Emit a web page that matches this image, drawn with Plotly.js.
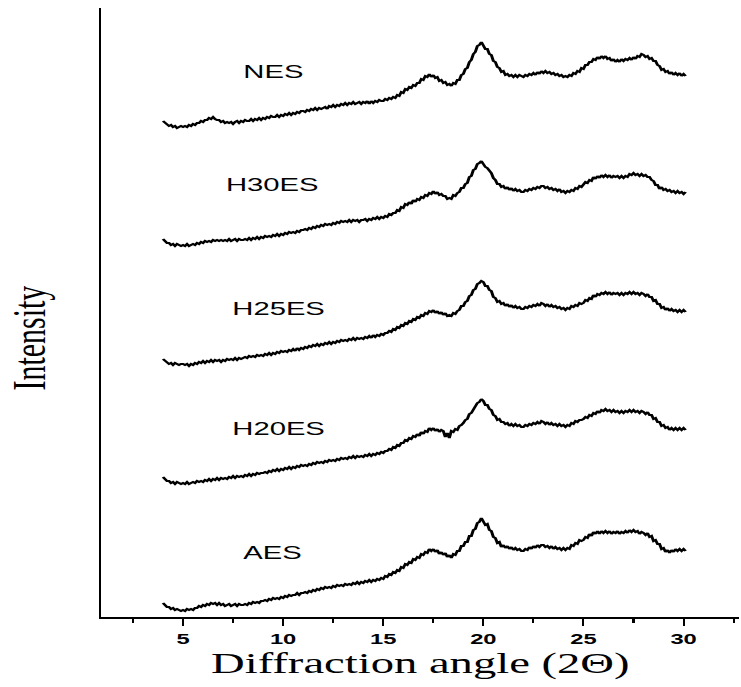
<!DOCTYPE html>
<html>
<head>
<meta charset="utf-8">
<script src="https://cdn.plot.ly/plotly-3.0.1.min.js"></script>
<style>
  html, body { margin: 0; padding: 0; background: #ffffff; overflow: hidden; }
  #chart { width: 469px; height: 687px; transform: scaleX(1.58); transform-origin: 0 0; }
</style>
</head>
<body>
<div id="chart"></div>
<script>
// 2θ scan: starts at 4.0°, step 0.1°, ends at 30.1° (262 points per pattern)
const angleStart = 4.0;
const angleStep = 0.1;

const sampleNames = ["NES", "H30ES", "H25ES", "H20ES", "AES"];

// Stacked intensities (a.u., offset for display)
const NES = [
496,494,492,491,492,490,491,489,490,491,
490,491,490,492,491,493,492,494,494,496,
495,497,497,499,498,500,498,497,497,495,
496,494,495,494,495,493,495,496,494,496,
495,497,496,496,498,496,498,497,499,497,
499,498,500,499,501,500,500,502,500,502,
501,503,502,504,502,504,503,505,504,506,
506,505,507,506,508,507,509,507,509,508,
509,510,508,511,510,512,510,512,511,513,
512,514,512,514,513,515,513,514,515,513,
515,514,516,513,516,514,516,515,517,516,
516,518,517,519,518,520,519,522,521,525,
524,528,527,530,529,532,531,534,534,538,
537,541,540,543,540,542,539,540,536,537,
534,535,532,533,531,534,533,537,537,542,
543,548,549,555,557,563,565,571,572,575,
572,568,568,563,562,556,555,550,549,545,
546,542,543,541,542,540,542,540,542,541,
540,542,541,543,542,544,542,545,543,546,
544,546,544,545,543,544,542,543,541,542,
540,541,540,542,541,544,543,546,545,549,
548,552,552,555,555,558,557,560,558,561,
559,561,558,559,556,558,555,557,555,558,
556,558,557,559,557,560,558,561,560,563,
562,560,561,558,559,556,556,552,551,547,
548,545,546,543,545,542,544,542,544,541,
543,541];

const H30ES = [
378,376,374,374,372,373,371,373,372,371,
372,371,373,371,372,373,372,374,373,375,
374,376,375,376,375,377,376,377,376,377,
376,377,376,378,376,377,378,376,378,377,
377,378,377,379,377,379,378,380,378,380,
379,381,380,381,380,382,381,383,381,383,
382,384,383,385,384,385,384,386,385,387,
387,388,387,389,388,390,389,391,390,392,
391,393,392,393,392,394,393,395,394,396,
395,396,395,397,395,397,396,397,395,397,
397,398,396,398,397,399,398,400,398,400,
399,401,400,403,402,404,404,407,406,410,
409,413,412,415,413,417,415,418,417,420,
419,422,421,424,423,426,423,425,422,423,
421,421,418,419,418,422,421,424,425,429,
429,433,434,440,441,447,448,453,454,456,
453,450,449,446,444,439,437,433,433,430,
431,428,430,427,429,426,428,426,427,425,
425,427,426,428,427,429,428,430,429,431,
431,429,430,428,429,427,428,426,428,425,
426,424,426,425,427,426,429,428,431,430,
432,435,434,437,436,440,438,441,439,442,
440,442,440,442,439,441,440,441,439,441,
439,441,440,443,442,444,442,443,441,443,
441,442,440,440,437,436,432,432,428,430,
427,428,426,427,425,426,424,426,424,425,
423,425];

const H25ES = [
258,256,255,253,254,252,254,253,252,253,
253,252,253,251,253,252,254,253,255,254,
256,254,256,255,257,255,257,256,257,255,
257,256,258,257,258,257,259,257,259,258,
259,260,259,261,260,261,260,262,261,262,
261,263,262,264,262,264,263,265,264,266,
265,266,265,267,266,268,266,269,267,269,
268,270,269,271,270,272,271,273,271,273,
272,274,273,275,273,275,274,276,275,277,
276,277,276,278,277,279,277,279,278,279,
278,280,279,281,279,282,280,282,281,283,
282,284,284,286,285,288,287,290,289,292,
291,294,293,296,295,298,297,300,299,302,
301,304,303,306,305,307,304,306,303,305,
302,304,301,302,301,304,303,306,307,311,
311,315,316,321,322,327,328,333,334,336,
335,331,331,327,326,320,319,315,316,313,
314,311,313,310,312,309,311,309,310,308,
308,310,309,311,310,312,311,313,311,314,
313,311,313,310,312,310,311,309,310,308,
309,307,309,308,311,310,312,311,314,313,
314,317,316,319,318,322,320,323,322,324,
323,325,323,325,322,324,323,324,322,324,
322,324,323,325,323,325,323,324,322,324,
323,321,323,320,320,316,317,313,313,309,
310,307,309,306,308,306,307,305,307,305,
307,305];

const H20ES = [
140,138,136,136,134,135,133,135,134,133,
134,133,135,133,134,135,134,136,135,136,
135,137,136,138,136,138,137,139,137,139,
138,139,138,140,139,141,139,141,140,141,
140,142,141,143,141,143,142,144,143,144,
144,145,144,146,145,147,146,148,146,148,
147,149,148,150,148,150,149,151,150,152,
151,152,151,153,152,154,153,155,154,155,
154,156,155,157,156,157,156,158,157,159,
158,159,158,160,159,161,159,161,160,161,
160,162,161,163,161,163,162,164,163,165,
164,166,166,168,167,170,169,172,171,174,
174,177,176,179,178,181,180,183,181,185,
183,186,185,189,187,189,186,188,185,187,
186,180,184,179,186,185,188,187,191,192,
194,197,198,203,204,208,210,214,215,218,
216,212,212,208,207,202,201,197,198,195,
195,193,194,191,193,191,193,191,192,190,
190,192,191,193,192,194,193,195,193,196,
195,193,195,192,194,192,193,191,193,191,
192,190,192,191,194,193,196,195,197,197,
198,200,199,202,201,204,203,206,204,207,
206,208,206,207,205,207,205,206,204,206,
204,206,205,207,205,207,205,206,204,206,
205,203,205,202,202,198,199,195,195,191,
192,189,190,187,189,187,189,187,189,187,
189,187];

const AES = [
14,12,10,10,8,9,7,8,7,6,
7,6,8,7,8,7,9,9,11,10,
12,11,13,12,14,13,14,12,14,12,
13,11,12,13,11,12,13,11,13,12,
12,13,12,14,13,15,14,15,14,16,
16,17,16,18,17,19,18,19,18,20,
19,21,20,22,21,22,22,24,22,24,
24,25,24,26,25,27,26,28,27,29,
28,30,29,30,29,31,30,32,31,32,
31,33,32,33,32,34,33,35,33,35,
34,36,35,37,35,37,36,38,37,39,
38,41,40,43,42,45,44,47,46,50,
49,53,52,55,54,58,57,60,59,63,
62,65,64,68,66,68,65,67,63,65,
62,64,60,62,59,63,62,66,66,71,
71,75,75,81,81,87,88,94,95,99,
96,92,93,87,86,80,79,74,75,70,
72,69,71,68,70,67,69,67,68,66,
66,68,67,70,68,71,69,72,70,72,
72,70,71,69,71,68,70,68,69,67,
69,67,69,68,72,71,74,73,77,76,
77,80,79,83,81,85,83,86,83,86,
84,86,84,86,83,85,84,86,83,85,
84,86,84,87,85,87,85,86,83,85,
84,82,84,80,81,76,77,73,73,68,
69,65,67,64,67,65,68,66,68,66,
68,66];

const seriesValues = [NES, H30ES, H25ES, H20ES, AES];

// x tick labels
const xTickVals = [5, 10, 15, 20, 25, 30];
const xTickText = ["5", "10", "15", "20", "25", "30"];

const traces = sampleNames.map((name, i) => ({
  type: "scatter",
  mode: "lines",
  name: name,
  x0: angleStart,
  dx: angleStep,
  y: seriesValues[i],
  line: { color: "#000000", width: 1.9 },
  showlegend: false,
  hoverinfo: "skip"
}));

// label placement (x in 2θ, y in stacked intensity units)
const labelPos = [
  [9.5, 546], [9.45, 433], [9.75, 309], [9.75, 189], [9.5, 65]
];

const annotations = sampleNames.map((name, i) => ({
  text: name,
  x: labelPos[i][0],
  y: labelPos[i][1],
  xref: "x",
  yref: "y",
  showarrow: false,
  xanchor: "center",
  yanchor: "middle",
  font: { family: "Liberation Sans, Arial, sans-serif", size: 18.5, color: "#000000" }
}));

annotations.push({
  text: "Intensity",
  xref: "paper",
  yref: "paper",
  x: -0.115,
  y: 0.458,
  xanchor: "center",
  yanchor: "middle",
  textangle: -90,
  showarrow: false,
  font: { family: "Liberation Serif, Times New Roman, serif", size: 30, color: "#000000" }
});

const layout = {
  width: 469,
  height: 687,
  margin: { l: 64, r: 1, t: 8, b: 70, pad: 0 },
  paper_bgcolor: "#ffffff",
  plot_bgcolor: "#ffffff",
  showlegend: false,
  xaxis: {
    range: [0.91, 32.79],
    showgrid: false,
    zeroline: false,
    showline: true,
    linecolor: "#000000",
    linewidth: 2,
    ticks: "outside",
    ticklen: 7,
    tickwidth: 1.3,
    tickcolor: "#000000",
    tickvals: xTickVals,
    ticktext: xTickText,
    tickfont: { family: "Liberation Sans, Arial, sans-serif", size: 15, color: "#000000", weight: "bold" },
    minor: { ticks: "outside", ticklen: 4, tickwidth: 1.3, tickcolor: "#000000", dtick: 2.5, tick0: 0, showgrid: false },
    automargin: false,
    title: {
      text: "Diffraction angle (2\u0398)",
      font: { family: "Liberation Serif, Times New Roman, serif", size: 29.5, color: "#000000" },
      standoff: 6
    }
  },
  yaxis: {
    range: [0, 609],
    showgrid: false,
    zeroline: false,
    showline: true,
    linecolor: "#000000",
    linewidth: 1.3,
    ticks: "",
    showticklabels: false,
    automargin: false
  },
  annotations: annotations
};

Plotly.newPlot("chart", traces, layout, { staticPlot: true, displayModeBar: false });
</script>
</body>
</html>
